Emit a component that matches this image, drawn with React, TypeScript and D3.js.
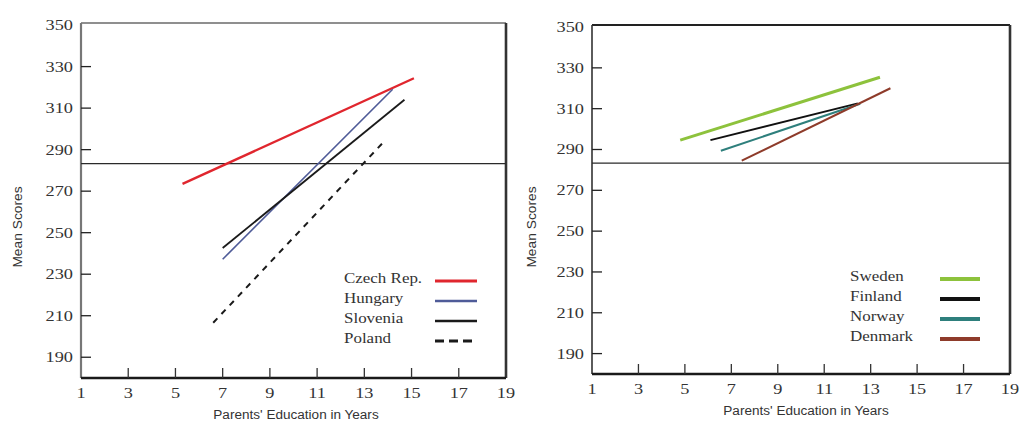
import React from "react";
import * as d3 from "d3";

// Axis ticks shared by both panels
const xTickValues = [1, 3, 5, 7, 9, 11, 13, 15, 17, 19];
const yTickValues = [190, 210, 230, 250, 270, 290, 310, 330, 350];
const xDomain: [number, number] = [1, 19];
const yDomain: [number, number] = [180, 351];
const averageScore = 283.3;

// Central Europe panel
const countriesA = ["Czech Rep.", "Hungary", "Slovenia", "Poland"];
const eduStartA = [5.3, 7.0, 7.0, 6.6];
const eduEndA = [15.1, 14.2, 14.7, 13.8];
const scoreStartA = [273.5, 237.2, 242.6, 206.6];
const scoreEndA = [324.4, 319.1, 314.0, 293.5];

// Nordic panel
const countriesB = ["Sweden", "Finland", "Norway", "Denmark"];
const eduStartB = [4.8, 6.1, 6.55, 7.45];
const eduEndB = [13.4, 12.45, 12.55, 13.85];
const scoreStartB = [294.6, 294.6, 289.4, 284.5];
const scoreEndB = [325.4, 312.6, 312.4, 320.0];

type Style = { color: string; width: number; dash?: string; legendWidth: number };

const stylesA: Style[] = [
  { color: "#e0262e", width: 2.4, legendWidth: 3.2 },
  { color: "#4f5b98", width: 1.6, legendWidth: 2.6 },
  { color: "#1a1a1a", width: 1.8, legendWidth: 2.6 },
  { color: "#1a1a1a", width: 2, dash: "6,6", legendWidth: 3.2 },
];
const stylesB: Style[] = [
  { color: "#8dc23c", width: 3, legendWidth: 4 },
  { color: "#111111", width: 2, legendWidth: 4 },
  { color: "#2e7f7c", width: 2, legendWidth: 4 },
  { color: "#8e3b2a", width: 2, legendWidth: 4 },
];

const serif = "'Liberation Serif', 'Times New Roman', serif";
const sans = "'Liberation Sans', Arial, sans-serif";

// Text drawn a little wider than the font's natural proportions
function WideText(props: {
  x: number;
  y: number;
  children: React.ReactNode;
  family: string;
  size: number;
  stretch: number;
  anchor?: "start" | "middle" | "end";
  rotate?: number;
  dy?: string;
}) {
  return (
    <g transform={`translate(${props.x},${props.y}) rotate(${props.rotate ?? 0}) scale(${props.stretch},1)`}>
      <text
        x={0}
        y={0}
        dy={props.dy}
        textAnchor={props.anchor ?? "start"}
        fontFamily={props.family}
        fontSize={props.size}
        fill="#333"
      >
        {props.children}
      </text>
    </g>
  );
}

type PanelProps = {
  left: number;
  right: number;
  top: number;
  bottom: number;
  names: string[];
  x0: number[];
  x1: number[];
  y0: number[];
  y1: number[];
  styles: Style[];
  legendTextX: number;
  legendLineX: [number, number];
  legendTop: number;
  legendStep: number;
  titleX: number;
  yTitleX: number;
  softFrame: boolean;
};

function Panel(p: PanelProps) {
  const x = d3.scaleLinear().domain(xDomain).range([p.left, p.right]);
  const y = d3.scaleLinear().domain(yDomain).range([p.bottom, p.top]);
  const line = d3
    .line<[number, number]>()
    .x((d) => x(d[0]))
    .y((d) => y(d[1]));

  return (
    <g>
      {/* frame */}
      <line x1={p.left} x2={p.right} y1={p.top} y2={p.top} stroke={p.softFrame ? "#6a6a6a" : "#222"} strokeWidth={p.softFrame ? 1.6 : 2.2} />
      <line x1={p.left} x2={p.left} y1={p.top} y2={p.bottom} stroke={p.softFrame ? "#777" : "#333"} strokeWidth={p.softFrame ? 2.2 : 1.6} />
      <line x1={p.right} x2={p.right} y1={p.top} y2={p.bottom} stroke="#333" strokeWidth={2.6} />
      <line x1={p.left} x2={p.right} y1={p.bottom} y2={p.bottom} stroke="#1a1a1a" strokeWidth={2.4} />

      {/* average reference line */}
      <line x1={p.left} x2={p.right} y1={y(averageScore)} y2={y(averageScore)} stroke="#2a2a2a" strokeWidth={1.3} />

      {/* y axis */}
      {yTickValues.map((v) => (
        <g key={"y" + v}>
          {v < yDomain[1] - 5 && (
            <line x1={p.left} x2={p.left + 10} y1={y(v)} y2={y(v)} stroke="#222" strokeWidth={1.3} />
          )}
          <WideText x={p.left - 8} y={y(v)} dy="0.32em" anchor="end" family={serif} size={15.5} stretch={1.18}>
            {v}
          </WideText>
        </g>
      ))}

      {/* x axis */}
      {xTickValues.map((v) => (
        <g key={"x" + v}>
          {v > xDomain[0] && v < xDomain[1] && (
            <line x1={x(v)} x2={x(v)} y1={p.bottom} y2={p.bottom - 10} stroke="#333" strokeWidth={1.3} />
          )}
          <WideText x={x(v)} y={p.bottom + 20} anchor="middle" family={serif} size={15.5} stretch={1.18}>
            {v}
          </WideText>
        </g>
      ))}

      <WideText x={p.titleX} y={p.bottom + 41} anchor="middle" family={sans} size={12} stretch={1.13}>
        Parents' Education in Years
      </WideText>
      <g transform={`translate(${p.yTitleX},227) rotate(-90) scale(1.15,1)`}>
        <text x={0} y={0} textAnchor="middle" fontFamily={sans} fontSize={12} fill="#333">
          Mean Scores
        </text>
      </g>

      {/* country lines */}
      {p.names.map((n, i) => (
        <path
          key={n}
          d={
            line([
              [p.x0[i], p.y0[i]],
              [p.x1[i], p.y1[i]],
            ]) as string
          }
          fill="none"
          stroke={p.styles[i].color}
          strokeWidth={p.styles[i].width}
          strokeDasharray={p.styles[i].dash}
        />
      ))}

      {/* legend */}
      {p.names.map((n, i) => {
        const ly = p.legendTop + i * p.legendStep;
        return (
          <g key={"lg" + n}>
            <WideText x={p.legendTextX} y={ly} dy="0.32em" family={serif} size={15} stretch={1.13}>
              {n}
            </WideText>
            <line
              x1={p.legendLineX[0]}
              x2={p.legendLineX[1]}
              y1={ly + 3}
              y2={ly + 3}
              stroke={p.styles[i].color}
              strokeWidth={p.styles[i].legendWidth}
              strokeDasharray={p.styles[i].dash ? "9,5" : undefined}
            />
          </g>
        );
      })}
    </g>
  );
}

export default function App() {
  return (
    <svg width={1021} height={422} style={{ position: "absolute", left: 0, top: 0, background: "#fff" }}>
      <rect width={1021} height={422} fill="#fff" />
      <Panel
        left={81}
        right={506}
        top={23}
        bottom={378}
        names={countriesA}
        x0={eduStartA}
        x1={eduEndA}
        y0={scoreStartA}
        y1={scoreEndA}
        styles={stylesA}
        legendTextX={344}
        legendLineX={[435, 477]}
        legendTop={278}
        legendStep={20}
        titleX={296}
        yTitleX={22}
        softFrame={true}
      />
      <Panel
        left={592}
        right={1010}
        top={25}
        bottom={374}
        names={countriesB}
        x0={eduStartB}
        x1={eduEndB}
        y0={scoreStartB}
        y1={scoreEndB}
        styles={stylesB}
        legendTextX={850}
        legendLineX={[940, 980]}
        legendTop={276}
        legendStep={20}
        titleX={806}
        yTitleX={536}
        softFrame={false}
      />
    </svg>
  );
}
